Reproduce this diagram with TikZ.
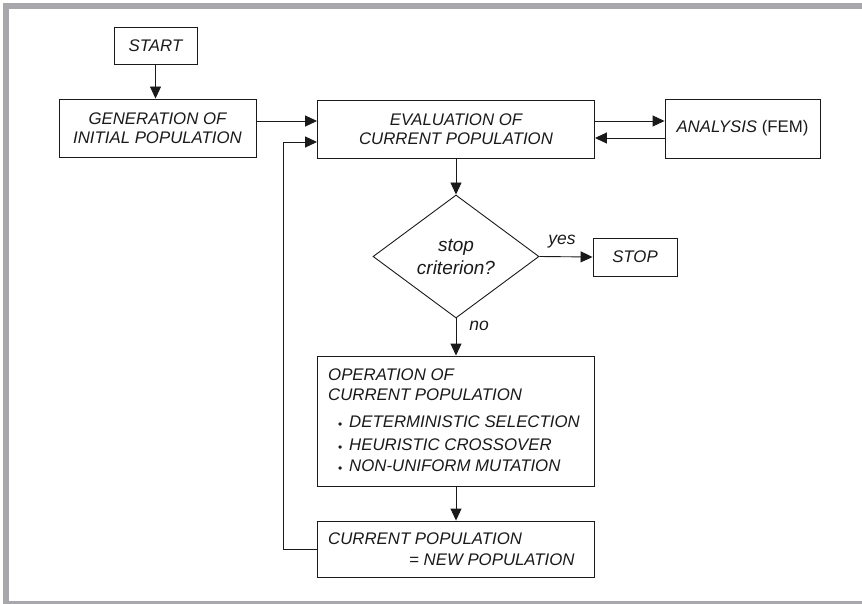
\documentclass[tikz,border=0pt]{standalone}
\usepackage{fontspec}
\setmainfont{Liberation Sans}
\usetikzlibrary{arrows.meta,shapes.geometric}
\definecolor{framegray}{HTML}{A8A8AC}
\definecolor{ink}{HTML}{1A1A1A}
\newcommand{\itembullet}{\makebox[11pt][l]{\upshape\fontsize{12}{12}\selectfont\raisebox{-1.5pt}{\textbullet}}}
\begin{document}
\begin{tikzpicture}[x=1pt,y=-1pt,
  every node/.style={text=ink},
  box/.style={draw=ink,line width=0.9pt,inner sep=0pt,align=center,
    font=\itshape\fontsize{16.8}{19.5}\selectfont},
  txt/.style={anchor=base west,inner sep=0pt,
    font=\itshape\fontsize{16.8}{19.5}\selectfont},
  lbl/.style={inner sep=0pt,font=\itshape\fontsize{17.5}{19.5}\selectfont},
  flow/.style={draw=ink,line width=0.9pt,-{Triangle[length=12pt,width=11pt]}}]
\useasboundingbox (0,0) rectangle (862,604);

% outer frame (top, left and bottom bars)
\fill[framegray] (3,3) rectangle (862,9);
\fill[framegray] (3,3) rectangle (8.5,604);
\fill[framegray] (3,601) rectangle (862,604);

% boxes
\node[box,minimum width=83pt,minimum height=37pt] (start) at (155.5,45.5) {START};
\node[box,minimum width=197pt,minimum height=58pt] (gen) at (157.5,128) {GENERATION OF\\INITIAL POPULATION};
\node[box,minimum width=277pt,minimum height=58pt] (eval) at (456,129) {EVALUATION OF\\CURRENT POPULATION};
\node[box,minimum width=155pt,minimum height=59pt] (ana) at (742.5,128.5) {ANALYSIS {\upshape(FEM)}};
\node[box,diamond,minimum width=166pt,minimum height=123pt,
  font=\itshape\fontsize{19}{21}\selectfont] (crit) at (456,256.5) {stop\\[2pt]criterion?};
\node[box,minimum width=84pt,minimum height=38pt] (stop) at (635,257) {STOP};
\node[box,minimum width=277pt,minimum height=130pt] (op) at (456,421) {};
\node[box,minimum width=277pt,minimum height=56pt] (cur) at (456,549) {};

% texts inside the lower boxes
\node[txt] (op1) at (328,380) {OPERATION OF};
\node[txt] (op2) at (328,400) {CURRENT POPULATION};
\node[txt] (op3) at (338,427) {\itembullet DETERMINISTIC SELECTION};
\node[txt] (op4) at (338,450) {\itembullet HEURISTIC CROSSOVER};
\node[txt] (op5) at (338,471) {\itembullet NON-UNIFORM MUTATION};
\node[txt] (cur1) at (328,544) {CURRENT POPULATION};
\node[txt] (cur2) at (409,565) {= NEW POPULATION};

% branch labels
\node[lbl] (yes) at (562,242) {yes};
\node[lbl] (no) at (479,326) {no};

% connectors
\coordinate (loop) at (283,0);
\draw[flow] (start.south) -- (start.south |- gen.north);
\draw[flow] ([yshift=7pt]gen.east) -- ([yshift=7pt]gen.east -| eval.west);
\draw[flow] ([yshift=8pt]eval.east) -- ([yshift=8pt]eval.east -| ana.west);
\draw[flow] ([yshift=-9.5pt]ana.west) -- ([yshift=-9.5pt]ana.west -| eval.east);
\draw[flow] (eval.south) -- (crit.north);
\draw[flow] (crit.east) -- (stop.west);
\draw[flow] (crit.south) -- (op.north);
\draw[flow] (op.south) -- (cur.north);
\draw[flow] (cur.west) -- (cur.west -| loop) |- ([yshift=-13pt]eval.west);
\end{tikzpicture}
\end{document}
